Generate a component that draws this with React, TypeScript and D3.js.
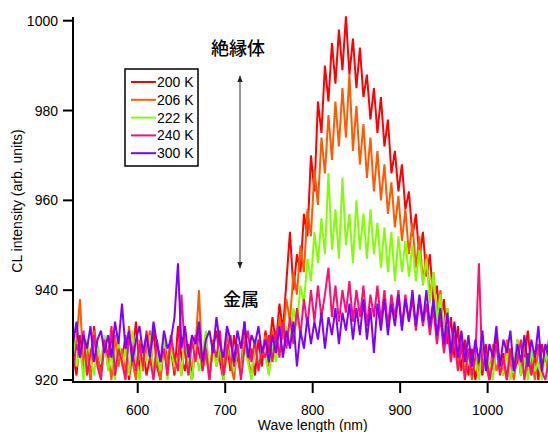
import * as d3 from "d3";

// sample grid of the spectra (nm)
const startNm = 526;
const stepNm = 4;

const temps = ["200 K", "206 K", "222 K", "240 K", "300 K"];
const colors = ["#ff0000", "#ff5a00", "#80ff00", "#ff1070", "#7f00ff"];

// CL intensity, one value every 4 nm from 526 nm
const k200 = [
  926, 921, 930, 924, 928, 920, 932, 925, 922, 929,
  923, 931, 921, 927, 924, 930, 920, 926, 933, 922,
  928, 921, 925, 931, 923, 920, 929, 924, 927, 921,
  932, 925, 922, 928, 920, 930, 926, 923, 929, 921,
  927, 931, 924, 920, 928, 922, 930, 925, 921, 933,
  924, 927, 921, 929, 923, 931,
  926, 934, 928, 937, 931, 942, 953, 940, 948, 944,
  957, 952, 970, 962, 982, 975, 990, 982, 995, 986,
  998, 989, 1001, 988, 996, 985, 994, 983, 988, 978,
  985, 975, 983, 972, 978, 966, 971, 962, 968, 958,
  962, 952, 957, 947, 953, 943, 948, 937, 941, 932,
  938, 928, 934, 925, 932, 922, 929, 921, 927, 920,
  925, 921, 928, 920, 924, 930, 922, 926, 920, 927,
  923, 929, 921, 925, 931, 922, 926, 920, 928, 924, 929,
];
const k206 = [
  924, 929, 938, 922, 927, 920, 931, 925, 921, 928,
  926, 920, 930, 923, 927, 921, 932, 924, 920, 929,
  922, 927, 931, 921, 925, 920, 928, 923, 930, 922,
  926, 921, 929, 924, 920, 927, 940, 922, 926, 920,
  929, 923, 927, 921, 931, 924, 920, 928, 922, 930,
  925, 921, 928, 923, 926, 930,
  923, 931, 926, 934, 929, 938, 933, 944, 939, 950,
  944, 958, 952, 967, 959, 974, 966, 979, 969, 982,
  972, 985, 974, 988, 971, 981, 968, 977, 965, 974,
  962, 971, 960, 968, 957, 964, 954, 961, 951, 958,
  948, 955, 945, 952, 942, 948, 939, 944, 934, 940,
  930, 936, 926, 932, 923, 929, 921, 927, 920, 925,
  921, 927, 923, 920, 928, 922, 925, 921, 929, 924,
  920, 926, 922, 928, 921, 925, 920, 927, 923, 926, 921,
];
const k222 = [
  931, 923, 927, 920, 929, 925, 921, 928, 924, 930,
  922, 926, 920, 929, 923, 927, 921, 931, 925, 920,
  928, 924, 930, 921, 926, 922, 929, 920, 927, 923,
  925, 921, 930, 924, 920, 928, 922, 926, 931, 921,
  927, 923, 929, 920, 925, 930, 922, 927, 921, 928,
  924, 920, 929, 923, 927, 925,
  921, 928, 924, 930, 926, 932, 928, 936, 932, 941,
  937, 947, 942, 953, 946, 956, 948, 966, 949, 958,
  947, 965, 950, 957, 946, 960, 949, 957, 947, 958,
  948, 955, 945, 954, 944, 953, 942, 952, 944, 951,
  943, 950, 942, 949, 941, 947, 937, 944, 933, 939,
  929, 936, 925, 931, 922, 928, 920, 926,
  921, 925, 920, 927, 922, 924, 920, 928, 923, 921,
  926, 920, 924, 929, 921, 925, 920, 927, 922, 924,
  920, 926, 923,
];
const k240 = [
  922, 928, 925, 931, 921, 926, 930, 923, 920, 929,
  925, 932, 921, 927, 924, 920, 930, 926, 922, 928,
  923, 931, 925, 920, 929, 924, 927, 921, 930, 925,
  922, 939, 926, 921, 929, 924, 931, 922, 927, 920,
  928, 925, 931, 921, 926, 930, 923, 928, 920, 927,
  931, 924, 929, 922, 927, 925,
  930, 924, 931, 925, 933, 927, 934, 928, 936, 930,
  938, 932, 940, 933, 941, 934, 939, 945, 934, 941,
  933, 940, 935, 942, 933, 940, 934, 941, 932, 939,
  934, 941, 933, 940, 932, 939, 934, 940, 932, 939,
  933, 938, 931, 938, 932, 937, 930, 936, 928, 934,
  926, 932, 924, 930, 922, 928, 920, 927, 921, 925,
  946, 922,
  926, 920, 924, 928, 921, 925, 920, 927, 922, 924,
  929, 920, 926, 921, 925, 928, 922, 920, 925,
];
const k300 = [
  928, 933, 925, 930, 927, 932, 924, 929, 931, 926,
  930, 925, 933, 928, 937, 927, 931, 924, 929, 932,
  926, 930, 925, 933, 928, 924, 931, 927, 929, 934,
  946, 927, 932, 925, 930, 928, 933, 924, 929, 931,
  926, 934, 928, 925, 932, 929, 924, 931, 927, 933,
  925, 930, 928, 932, 926, 929,
  924, 930, 926, 932, 925, 931, 927, 933, 923, 931,
  927, 934, 928, 933, 929, 935, 927, 934, 930, 936,
  928, 935, 931, 937, 929, 936, 930, 938, 929, 936,
  926, 937, 931, 938, 930, 937, 932, 939, 931, 938,
  933, 940, 932, 939, 933, 940, 932, 938, 930, 936,
  928, 935, 926, 933, 925, 931, 924, 930, 923, 929,
  924, 931, 922, 928, 925, 932, 923, 929, 926, 931,
  922, 928, 924, 930, 923, 929, 925, 932, 922, 928, 925,
];
const series = [k200, k206, k222, k240, k300];

const xTicks = [600, 700, 800, 900, 1000];
const yTicks = [920, 940, 960, 980, 1000];

const W = 548;
const H = 432;
const left = 73;
const axisY = 382;

const x = d3.scaleLinear().domain([526, 1069]).range([left, W]);
const y = d3.scaleLinear().domain([920, 1000]).range([380, 20.7]);

const line = d3
  .line<number>()
  .x((_, i) => x(startNm + i * stepNm))
  .y((d) => y(d));

const font = "'Liberation Sans', Arial, sans-serif";
const jp = "'Noto Sans CJK JP', sans-serif";

export default function App() {
  return (
    <svg
      width={W}
      height={H}
      style={{ position: "absolute", left: 0, top: 0, background: "#fff" }}
    >
      <defs>
        <clipPath id="plot">
          <rect x={left} y={0} width={W - left} height={axisY - 1} />
        </clipPath>
        <marker id="head" viewBox="0 0 10 10" refX="9" refY="5" markerWidth="7" markerHeight="9" orient="auto-start-reverse">
          <path d="M0,1 L10,5 L0,9 z" fill="#222" />
        </marker>
      </defs>

      <g clipPath="url(#plot)">
        {series.map((s, i) => (
          <path
            key={temps[i]}
            d={line(s) ?? ""}
            fill="none"
            stroke={colors[i]}
            strokeWidth={2}
            strokeLinejoin="bevel"
          />
        ))}
      </g>

      {/* y axis */}
      <line x1={left} x2={left} y1={17} y2={axisY + 1} stroke="#000" strokeWidth={2} />
      {yTicks.map((t) => (
        <g key={t}>
          <line x1={left - 10} x2={left} y1={y(t)} y2={y(t)} stroke="#000" strokeWidth={2} />
          <text x={left - 15} y={y(t) + 5} textAnchor="end" fontFamily={font} fontSize={14}>
            {t}
          </text>
        </g>
      ))}
      <text
        transform={`translate(22,${(20 + 382) / 2}) rotate(-90)`}
        textAnchor="middle"
        fontFamily={font}
        fontSize={14}
      >
        CL intensity (arb. units)
      </text>

      {/* x axis */}
      <line x1={left - 1} x2={W} y1={axisY} y2={axisY} stroke="#000" strokeWidth={2} />
      {xTicks.map((t) => (
        <g key={t}>
          <line x1={x(t)} x2={x(t)} y1={axisY} y2={axisY + 11} stroke="#000" strokeWidth={2} />
          <text x={x(t)} y={415} textAnchor="middle" fontFamily={font} fontSize={14}>
            {t}
          </text>
        </g>
      ))}
      <text x={x(800)} y={430} textAnchor="middle" fontFamily={font} fontSize={14}>
        Wave length (nm)
      </text>

      {/* legend */}
      <rect x={125} y={69} width={73} height={97} fill="#fff" stroke="#000" strokeWidth={1.5} />
      {temps.map((t, i) => (
        <g key={t} transform={`translate(0,${82 + i * 17.8})`}>
          <line x1={131} x2={156} y1={0} y2={0} stroke={colors[i]} strokeWidth={2} />
          <text x={157} y={5} fontFamily={font} fontSize={14}>
            {t}
          </text>
        </g>
      ))}

      {/* annotation */}
      <text x={211} y={55} fontFamily={jp} fontSize={18} fontWeight={500}>
        絶縁体
      </text>
      <line
        x1={240}
        x2={240}
        y1={76}
        y2={268}
        stroke="#333"
        strokeWidth={1}
        markerStart="url(#head)"
        markerEnd="url(#head)"
      />
      <text x={223} y={306} fontFamily={jp} fontSize={18} fontWeight={500}>
        金属
      </text>
    </svg>
  );
}
